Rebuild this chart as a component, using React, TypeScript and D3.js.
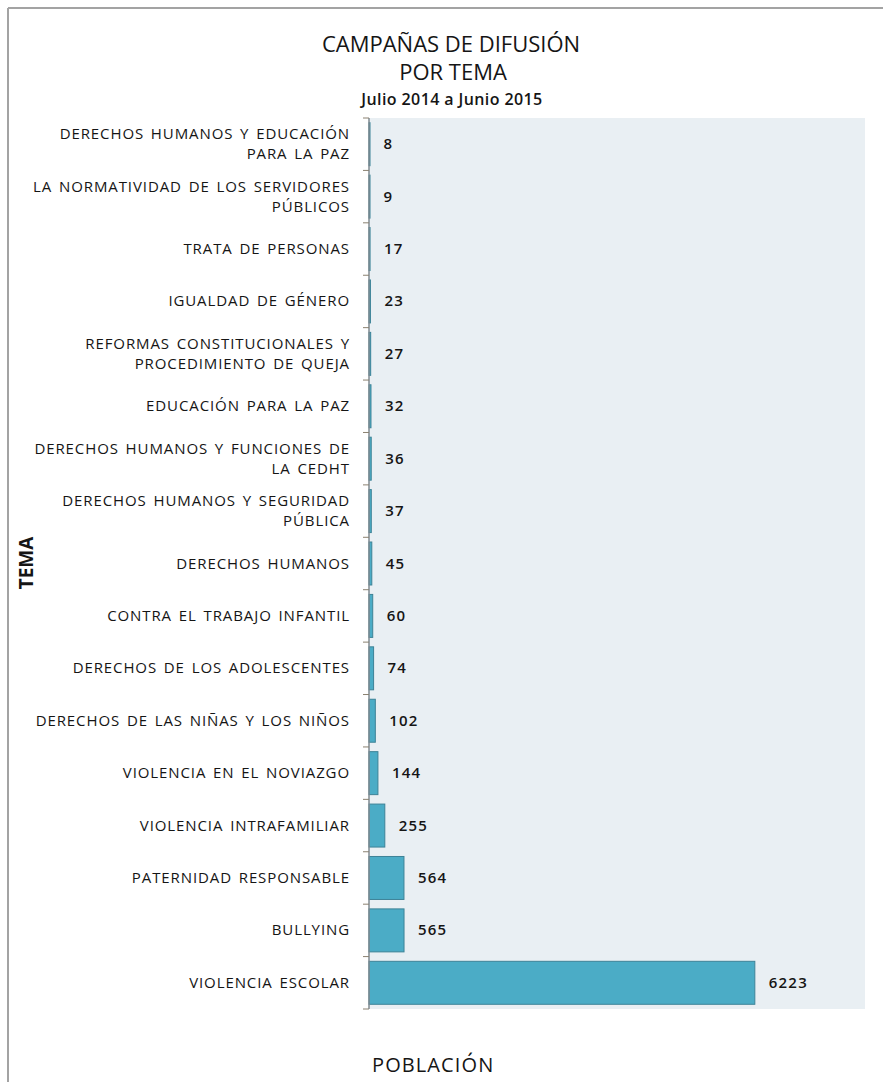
import React from 'react';
import * as d3 from 'd3';

// temas, de arriba hacia abajo ("\n" = salto de línea en la etiqueta)
const categories = [
    'DERECHOS HUMANOS Y EDUCACIÓN\nPARA LA PAZ',
    'LA NORMATIVIDAD DE LOS SERVIDORES\nPÚBLICOS',
    'TRATA DE PERSONAS',
    'IGUALDAD DE GÉNERO',
    'REFORMAS CONSTITUCIONALES Y\nPROCEDIMIENTO DE QUEJA',
    'EDUCACIÓN PARA LA PAZ',
    'DERECHOS HUMANOS Y FUNCIONES DE\nLA CEDHT',
    'DERECHOS HUMANOS Y SEGURIDAD\nPÚBLICA',
    'DERECHOS HUMANOS',
    'CONTRA EL TRABAJO INFANTIL',
    'DERECHOS DE LOS ADOLESCENTES',
    'DERECHOS DE LAS NIÑAS Y LOS NIÑOS',
    'VIOLENCIA EN EL NOVIAZGO',
    'VIOLENCIA INTRAFAMILIAR',
    'PATERNIDAD RESPONSABLE',
    'BULLYING',
    'VIOLENCIA ESCOLAR',
];

const values = [8, 9, 17, 23, 27, 32, 36, 37, 45, 60, 74, 102, 144, 255, 564, 565, 6223];

const titleLines = ['CAMPAÑAS DE DIFUSIÓN', 'POR TEMA'];
const subtitle = 'Julio 2014 a Junio 2015';
const yAxisTitle = 'TEMA';
const xAxisTitle = 'POBLACIÓN';

const width = 883;
const height = 1082;
const plot = { left: 369, right: 865, top: 118, bottom: 1009 };
const font = '"Open Sans", "DejaVu Sans", sans-serif';
const textColor = '#151515';

export default function App() {
    const x = d3.scaleLinear().domain([0, 8000]).range([plot.left, plot.right]);
    const y = d3.scaleBand<string>()
        .domain(categories)
        .range([plot.top, plot.bottom])
        .paddingInner(0.18)
        .paddingOuter(0.09);

    const step = y.step();
    // ticks between categories
    const tickYs = d3.range(categories.length + 1).map((i) => plot.top + i * step);

    return (
        <svg
            width={width}
            height={height}
            style={{ position: 'absolute', left: 0, top: 0, background: '#fff' }}
            fontFamily={font}
        >
            {/* outer frame (only top/left visible) */}
            <line x1={8} x2={width} y1={8} y2={8} stroke="#a3a3a3" strokeWidth={2} />
            <line x1={8} x2={8} y1={8} y2={height} stroke="#a3a3a3" strokeWidth={2} />

            {/* titles */}
            <text x={451} y={52} textAnchor="middle" fontSize={22} fontWeight={500} fill={textColor}>
                {titleLines[0]}
            </text>
            <text x={453} y={80} textAnchor="middle" fontSize={22} fontWeight={500} fill={textColor}>
                {titleLines[1]}
            </text>
            <text x={452} y={105} textAnchor="middle" fontSize={16} fontWeight={600} letterSpacing={0.4} fill={textColor}>
                {subtitle}
            </text>

            {/* plot area */}
            <rect
                x={plot.left}
                y={plot.top}
                width={plot.right - plot.left}
                height={plot.bottom - plot.top}
                fill="#e9eff3"
            />

            {/* bars */}
            {categories.map((c, i) => (
                <rect
                    key={c}
                    x={x(0)}
                    y={y(c)}
                    width={Math.max(x(values[i]) - x(0), 1)}
                    height={y.bandwidth()}
                    fill="#4bacc6"
                    stroke="#3d8397"
                    strokeWidth={1}
                />
            ))}

            {/* value labels */}
            {categories.map((c, i) => (
                <text
                    key={c}
                    x={x(values[i]) + 14}
                    y={(y(c) ?? 0) + y.bandwidth() / 2 + 5}
                    fontSize={15}
                    fontWeight={600}
                    letterSpacing={1.2}
                    fill={textColor}
                >
                    {values[i]}
                </text>
            ))}

            {/* y axis */}
            <line x1={plot.left} x2={plot.left} y1={plot.top} y2={plot.bottom} stroke="#7f8a90" strokeWidth={1.5} />
            {tickYs.map((t) => (
                <line key={t} x1={plot.left - 6} x2={plot.left} y1={t} y2={t} stroke="#8a8070" strokeWidth={1} />
            ))}

            {/* category labels */}
            {categories.map((c) => {
                const lines = c.split('\n');
                const cy = (y(c) ?? 0) + y.bandwidth() / 2;
                const lh = 20;
                const y0 = cy - ((lines.length - 1) * lh) / 2 + 5;
                return (
                    <text
                        key={c}
                        x={350}
                        textAnchor="end"
                        fontSize={15}
                        fontWeight={500}
                        letterSpacing={0.9}
                        wordSpacing={2}
                        fill={textColor}
                    >
                        {lines.map((l, j) => (
                            <tspan key={j} x={350} y={y0 + j * lh}>
                                {l}
                            </tspan>
                        ))}
                    </text>
                );
            })}

            {/* axis titles */}
            <text
                transform={`translate(33,563) rotate(-90)`}
                textAnchor="middle"
                fontSize={19}
                fontWeight={700}
                fill={textColor}
            >
                {yAxisTitle}
            </text>
            <text x={372} y={1072} fontSize={20} fontWeight={500} letterSpacing={1.1} fill={textColor}>
                {xAxisTitle}
            </text>
        </svg>
    );
}
